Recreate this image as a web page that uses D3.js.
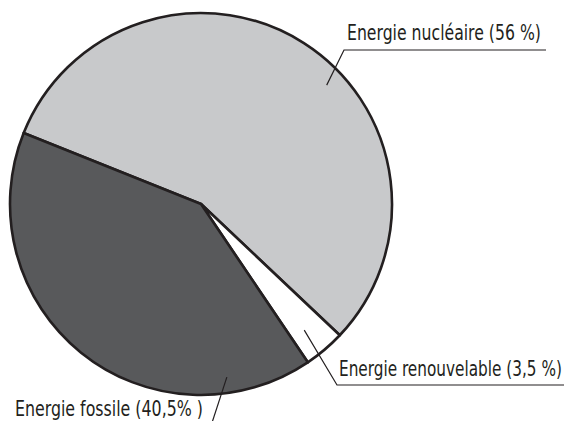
<!DOCTYPE html>
<html>
<head>
<meta charset="utf-8">
<script src="https://cdn.jsdelivr.net/npm/d3@7"></script>
<style>
  body { margin: 0; background: #fff; }
  text { font-family: "DejaVu Sans Condensed", "Liberation Sans Narrow", sans-serif; fill: #231f20; }
</style>
</head>
<body>
<svg id="chart" width="565" height="421"></svg>
<script>
// data
const sources = ["Energie nucléaire", "Energie renouvelable", "Energie fossile"];
const shares = [56, 3.5, 40.5];
const labels = ["Energie nucléaire (56 %)", "Energie renouvelable (3,5 %)", "Energie fossile (40,5% )"];
const colors = ["#c8c9cb", "#ffffff", "#58595b"];

const svg = d3.select("#chart");
const cx = 201, cy = 204, radius = 191;

const g = svg.append("g").attr("transform", `translate(${cx},${cy})`);

const pie = d3.pie()
    .sort(null)
    .value(d => d.value)
    .startAngle(-68.2 * Math.PI / 180)
    .endAngle((360 - 68.2) * Math.PI / 180);

const arcs = pie(sources.map((s, i) => ({ name: s, value: shares[i] })));
const arc = d3.arc().innerRadius(0).outerRadius(radius);

// slices
g.selectAll(".slice")
    .data(arcs)
    .enter()
    .append("path")
    .attr("class", "slice")
    .attr("d", arc)
    .attr("fill", (d, i) => colors[i])
    .attr("stroke", "#231f20")
    .attr("stroke-width", 2.6)
    .attr("stroke-linejoin", "round");

// leader lines + labels (angle in degrees, radius where the leader starts)
const leaders = [
    { angle: 46.6, r: 173, elbow: [344, 50], end: 546, tx: 347, ty: 40, tw: 194 },
    { angle: 140.7, r: 163, elbow: [337, 385], end: 564, tx: 339, ty: 376, tw: 223 },
    { angle: 171.5, r: 175, elbow: [209, 432], end: null, tx: 15, ty: 416, tw: 188 },
];

leaders.forEach((l, i) => {
    const a = l.angle * Math.PI / 180;
    const x0 = cx + l.r * Math.sin(a);
    const y0 = cy - l.r * Math.cos(a);
    const pts = [[x0, y0], l.elbow];
    if (l.end !== null) pts.push([l.end, l.elbow[1]]);
    svg.append("path")
        .attr("d", d3.line()(pts))
        .attr("fill", "none")
        .attr("stroke", "#231f20")
        .attr("stroke-width", 1.2);

    const t = svg.append("text")
        .attr("x", 0)
        .attr("y", 0)
        .attr("font-size", 21)
        .text(labels[i]);
    // squeeze horizontally to the narrow width of the original lettering
    const len = t.node().getComputedTextLength();
    t.attr("transform", `translate(${l.tx},${l.ty}) scale(${l.tw / len},1)`);
});
</script>
</body>
</html>
